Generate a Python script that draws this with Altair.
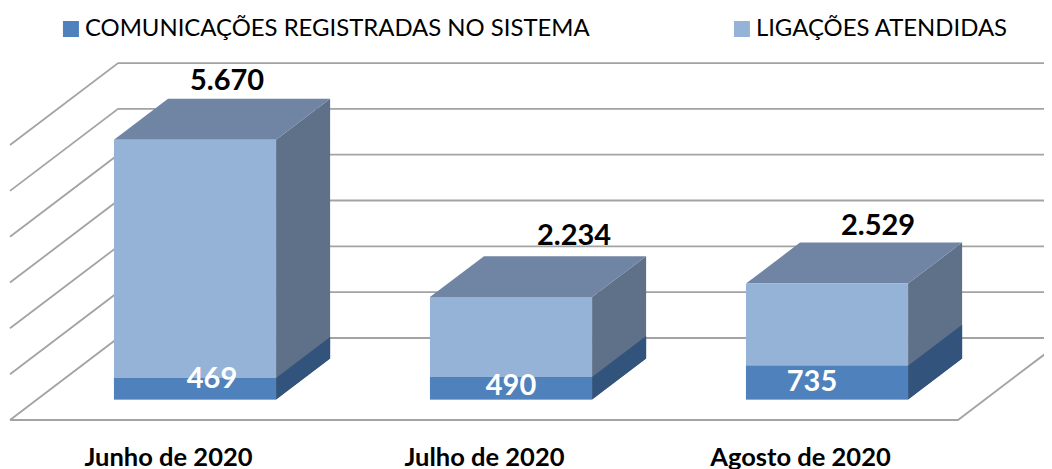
import altair as alt
import pandas as pd

# ---- data
meses = ["Junho de 2020", "Julho de 2020", "Agosto de 2020"]
ligacoes = [5670, 2234, 2529]
comunicacoes = [469, 490, 735]
serie_com = "COMUNICAÇÕES REGISTRADAS NO SISTEMA"
serie_lig = "LIGAÇÕES ATENDIDAS"
rotulos_lig = ["5.670", "2.234", "2.529"]
rotulos_com = ["469", "490", "735"]
ticks_y = [0, 1000, 2000, 3000, 4000, 5000, 6000]

# ---- oblique projection, in axis units
DEPTH_U = 0.342      # x shift of the whole floor depth, in category units
DEPTH_V = 1789       # y shift of the whole floor depth, in value units
BAR_W = 0.513
D_FRONT, D_BACK = 0.25, 0.75
FONT = "Lato"
n = len(meses)

def px(u, d):
    return u + d * DEPTH_U

def py(v, d):
    return v + d * DEPTH_V

def bar_lr(i):
    c = i + 0.5
    return c - BAR_W / 2, c + BAR_W / 2

xs = alt.Scale(domain=[-2 / 316, 1034 / 316], nice=False, zero=False)
ys = alt.Scale(domain=[-502, 8990], nice=False, zero=False)
x_axis = alt.Axis(
    values=[i + 0.5 for i in range(n)], title=None, domain=False, ticks=False, grid=False,
    labelExpr="['" + "','".join(meses) + "'][floor(datum.value)]",
    labelFont=FONT, labelFontSize=25.5, labelFontWeight="bold", labelColor="#000000",
    labelPadding=2, labelBaseline="top", labelFlush=False, labelOverlap=False, labelLimit=400)
X = lambda f="x": alt.X(f"{f}:Q", scale=xs, axis=x_axis)
Y = lambda f="y": alt.Y(f"{f}:Q", scale=ys, axis=None)

# ---- walls and floor
grid = []
for v in ticks_y:
    grid += [dict(s=f"l{v}", x=px(0, 0), y=py(v, 0), o=0), dict(s=f"l{v}", x=px(0, 1), y=py(v, 1), o=1),
             dict(s=f"l{v}", x=px(n, 1), y=py(v, 1), o=2)]
grid += [dict(s="f", x=px(0, 0), y=0, o=0), dict(s="f", x=px(n, 0), y=0, o=1), dict(s="f", x=px(n, 1), y=py(0, 1), o=2)]
grid_layer = alt.Chart(pd.DataFrame(grid)).mark_line(color="#A3A3A3", strokeWidth=1.8, clip=True).encode(
    x=X(), y=Y(), detail="s:N", order="o:Q")

def side(values, base):
    rows = []
    for i, (t, b) in enumerate(zip(values, base)):
        _, r = bar_lr(i)
        for d in (D_FRONT, D_BACK):
            rows.append(dict(b=i, x=px(r, d), y=py(t, d), y2=py(b, d)))
    return pd.DataFrame(rows)

def top(values):
    rows = []
    for i, t in enumerate(values):
        l, r = bar_lr(i)
        for d in (D_FRONT, D_BACK):
            rows.append(dict(b=i, x=px(l, d), x2=px(r, d), y=py(t, d)))
    return pd.DataFrame(rows)

zeros = [0] * n
side_lig = alt.Chart(side(ligacoes, zeros)).mark_area(color="#5F7189").encode(
    x=X(), y=Y(), y2="y2:Q", detail="b:N")
side_com = alt.Chart(side(comunicacoes, zeros)).mark_area(color="#32537B").encode(
    x=X(), y=Y(), y2="y2:Q", detail="b:N")
top_lig = alt.Chart(top(ligacoes)).mark_area(color="#7084A3", orient="horizontal").encode(
    x=X(), x2="x2:Q", y=Y(), detail="b:N")

front = []
for nome, vals in ((serie_lig, ligacoes), (serie_com, comunicacoes)):
    for i, t in enumerate(vals):
        l, r = bar_lr(i)
        front.append(dict(serie=nome, x=px(l, D_FRONT), x2=px(r, D_FRONT), y=py(t, D_FRONT), y2=py(0, D_FRONT)))
front_layer = alt.Chart(pd.DataFrame(front)).mark_bar(cornerRadius=0).encode(
    x=X(), x2="x2:Q", y=Y(), y2="y2:Q",
    color=alt.Color("serie:N",
                    scale=alt.Scale(domain=[serie_com, serie_lig], range=["#4F81BD", "#95B3D7"]),
                    legend=alt.Legend(title=None, orient="none", legendX=51, legendY=9, columns=2,
                                      direction="horizontal",
                                      symbolType="square", symbolSize=256, symbolStrokeWidth=0,
                                      labelFont=FONT, labelFontSize=23.9, labelColor="#000000",
                                      labelLimit=700, columnPadding=140, labelOffset=2)))

# ---- value labels
labels = []
nudge_top = [(32, -59), (63, -61), (51, -58)]
nudge_in = [(17, 1), (0, 9), (-15, 16)]
for i in range(n):
    l, r = bar_lr(i)
    cx = px((l + r) / 2, D_FRONT)
    labels.append(alt.Chart(pd.DataFrame([dict(x=cx, y=py(ligacoes[i], D_FRONT), t=rotulos_lig[i])]))
                  .mark_text(font=FONT, fontSize=29, fontWeight="bold", color="#000000",
                             dx=nudge_top[i][0], dy=nudge_top[i][1])
                  .encode(x=X(), y=Y(), text="t:N"))
    labels.append(alt.Chart(pd.DataFrame([dict(x=cx, y=py(comunicacoes[i], D_FRONT), t=rotulos_com[i])]))
                  .mark_text(font=FONT, fontSize=29, fontWeight="bold", color="#FFFFFF",
                             dx=nudge_in[i][0], dy=nudge_in[i][1])
                  .encode(x=X(), y=Y(), text="t:N"))

chart = alt.layer(grid_layer, side_lig, top_lig, side_com, front_layer, *labels).resolve_scale(
    x="shared", y="shared"
).properties(
    width=1036, height=435, padding={"left": 0, "top": 0, "right": 0, "bottom": 26},
    autosize=alt.AutoSizeParams(type="none"), background="#FFFFFF"
).configure_view(stroke=None)

chart.save("out.html", embed_options={"renderer": "svg", "actions": False})
